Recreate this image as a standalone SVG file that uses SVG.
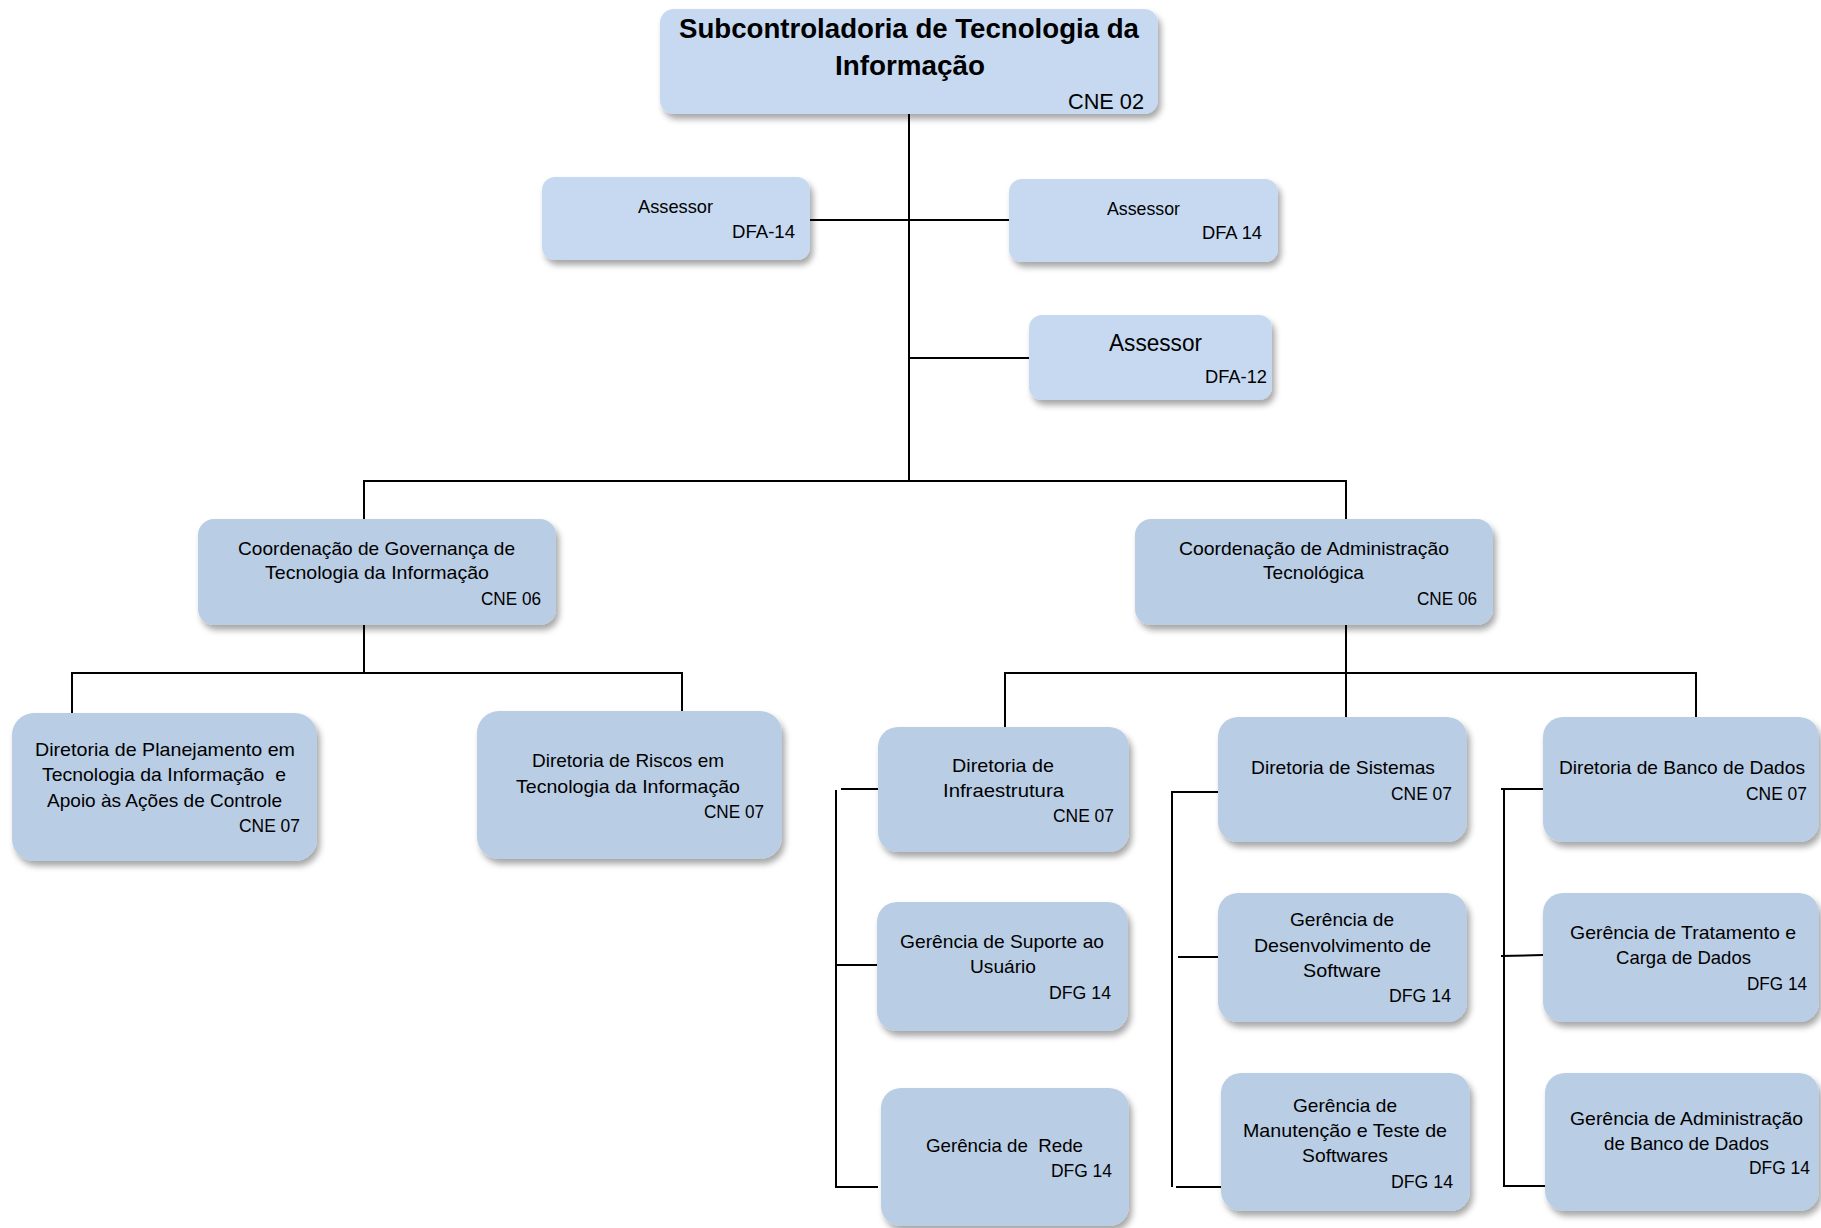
<svg xmlns="http://www.w3.org/2000/svg" width="1821" height="1228" viewBox="0 0 1821 1228">
<defs>
<filter id="sh" x="-10%" y="-10%" width="125%" height="135%">
<feDropShadow dx="3" dy="5" stdDeviation="3" flood-color="#000" flood-opacity="0.35"/>
</filter>
<style>
.la{fill:#C6D9F1;filter:url(#sh)}
.bx{fill:#B9CDE5;filter:url(#sh)}
text{font-family:"Liberation Sans",Arial,sans-serif;font-size:19px;fill:#000}
.t{font-weight:bold;font-size:27px}
.p{white-space:pre}
.c{fill:none;stroke:#000;stroke-width:2}
</style>
</defs>
<rect width="1821" height="1228" fill="#fff"/>
<g id="connectors">
<path class="c" d="M909 114 V481"/>
<path class="c" d="M810 220 H1009"/>
<path class="c" d="M909 358 H1029"/>
<path class="c" d="M364 519 V481 H1346 V519"/>
<path class="c" d="M364 625 V673"/>
<path class="c" d="M72 713 V673 H682 V711"/>
<path class="c" d="M1346 625 V717"/>
<path class="c" d="M1005 727 V673 H1696 V717"/>
<path class="c" d="M836 790 V1187 H878"/>
<path class="c" d="M841 789 H878"/>
<path class="c" d="M837 965 H877"/>
<path class="c" d="M1218 792 H1172 V1187"/>
<path class="c" d="M1176 1187 H1221"/>
<path class="c" d="M1178 957 H1218"/>
<path class="c" d="M1543 789 H1501"/>
<path class="c" d="M1504 789 V1186 H1545"/>
<path class="c" d="M1501 956 L1543 955"/>
</g>
<g id="n0"><rect class="la" x="660" y="9" width="498" height="105" rx="14"/>
<text class="t" x="679" y="38" textLength="460" lengthAdjust="spacingAndGlyphs">Subcontroladoria de Tecnologia da</text>
<text class="t" x="835" y="75" textLength="150" lengthAdjust="spacingAndGlyphs">Informação</text>
<text x="1068" y="109" style="font-size:22px" textLength="76" lengthAdjust="spacingAndGlyphs">CNE 02</text></g>
<g id="n1"><rect class="la" x="542" y="177" width="268" height="83" rx="13"/>
<text x="638" y="213" textLength="75" lengthAdjust="spacingAndGlyphs">Assessor</text>
<text x="732" y="238" textLength="63" lengthAdjust="spacingAndGlyphs">DFA-14</text></g>
<g id="n2"><rect class="la" x="1009" y="179" width="269" height="83" rx="13"/>
<text x="1107" y="215" textLength="73" lengthAdjust="spacingAndGlyphs">Assessor</text>
<text x="1202" y="239" textLength="60" lengthAdjust="spacingAndGlyphs">DFA 14</text></g>
<g id="n3"><rect class="la" x="1029" y="315" width="243" height="85" rx="13"/>
<text x="1109" y="351" style="font-size:24px" textLength="93" lengthAdjust="spacingAndGlyphs">Assessor</text>
<text x="1205" y="383" textLength="62" lengthAdjust="spacingAndGlyphs">DFA-12</text></g>
<g id="n4"><rect class="bx" x="198" y="519" width="358" height="106" rx="16"/>
<text x="238" y="555" textLength="277" lengthAdjust="spacingAndGlyphs">Coordenação de Governança de</text>
<text x="265" y="579" textLength="224" lengthAdjust="spacingAndGlyphs">Tecnologia da Informação</text>
<text x="481" y="605" textLength="60" lengthAdjust="spacingAndGlyphs">CNE 06</text></g>
<g id="n5"><rect class="bx" x="1135" y="519" width="358" height="106" rx="16"/>
<text x="1179" y="555" textLength="270" lengthAdjust="spacingAndGlyphs">Coordenação de Administração</text>
<text x="1263" y="579" textLength="101" lengthAdjust="spacingAndGlyphs">Tecnológica</text>
<text x="1417" y="605" textLength="60" lengthAdjust="spacingAndGlyphs">CNE 06</text></g>
<g id="n6"><rect class="bx" x="12" y="713" width="305" height="148" rx="22"/>
<text x="35" y="756" textLength="260" lengthAdjust="spacingAndGlyphs">Diretoria de Planejamento em</text>
<text class="p" xml:space="preserve" x="42" y="781" textLength="244" lengthAdjust="spacingAndGlyphs">Tecnologia da Informação  e</text>
<text x="47" y="807" textLength="235" lengthAdjust="spacingAndGlyphs">Apoio às Ações de Controle</text>
<text x="239" y="832" textLength="61" lengthAdjust="spacingAndGlyphs">CNE 07</text></g>
<g id="n7"><rect class="bx" x="477" y="711" width="305" height="148" rx="22"/>
<text x="532" y="767" textLength="192" lengthAdjust="spacingAndGlyphs">Diretoria de Riscos em</text>
<text x="516" y="793" textLength="224" lengthAdjust="spacingAndGlyphs">Tecnologia da Informação</text>
<text x="704" y="818" textLength="60" lengthAdjust="spacingAndGlyphs">CNE 07</text></g>
<g id="n8"><rect class="bx" x="878" y="727" width="251" height="125" rx="20"/>
<text x="952" y="772" textLength="102" lengthAdjust="spacingAndGlyphs">Diretoria de</text>
<text x="943" y="797" textLength="121" lengthAdjust="spacingAndGlyphs">Infraestrutura</text>
<text x="1053" y="822" textLength="61" lengthAdjust="spacingAndGlyphs">CNE 07</text></g>
<g id="n9"><rect class="bx" x="1218" y="717" width="249" height="125" rx="20"/>
<text x="1251" y="774" textLength="184" lengthAdjust="spacingAndGlyphs">Diretoria de Sistemas</text>
<text x="1391" y="800" textLength="61" lengthAdjust="spacingAndGlyphs">CNE 07</text></g>
<g id="n10"><rect class="bx" x="1543" y="717" width="276" height="125" rx="20"/>
<text x="1559" y="774" textLength="246" lengthAdjust="spacingAndGlyphs">Diretoria de Banco de Dados</text>
<text x="1746" y="800" textLength="61" lengthAdjust="spacingAndGlyphs">CNE 07</text></g>
<g id="n11"><rect class="bx" x="877" y="902" width="251" height="129" rx="20"/>
<text x="900" y="948" textLength="204" lengthAdjust="spacingAndGlyphs">Gerência de Suporte ao</text>
<text x="970" y="973" textLength="66" lengthAdjust="spacingAndGlyphs">Usuário</text>
<text x="1049" y="999" textLength="62" lengthAdjust="spacingAndGlyphs">DFG 14</text></g>
<g id="n12"><rect class="bx" x="1218" y="893" width="249" height="129" rx="20"/>
<text x="1290" y="926" textLength="104" lengthAdjust="spacingAndGlyphs">Gerência de</text>
<text x="1254" y="952" textLength="177" lengthAdjust="spacingAndGlyphs">Desenvolvimento de</text>
<text x="1303" y="977" textLength="78" lengthAdjust="spacingAndGlyphs">Software</text>
<text x="1389" y="1002" textLength="62" lengthAdjust="spacingAndGlyphs">DFG 14</text></g>
<g id="n13"><rect class="bx" x="1543" y="893" width="276" height="129" rx="20"/>
<text x="1570" y="939" textLength="226" lengthAdjust="spacingAndGlyphs">Gerência de Tratamento e</text>
<text x="1616" y="964" textLength="135" lengthAdjust="spacingAndGlyphs">Carga de Dados</text>
<text x="1747" y="990" textLength="60" lengthAdjust="spacingAndGlyphs">DFG 14</text></g>
<g id="n14"><rect class="bx" x="881" y="1088" width="248" height="138" rx="20"/>
<text class="p" xml:space="preserve" x="926" y="1152" textLength="157" lengthAdjust="spacingAndGlyphs">Gerência de  Rede</text>
<text x="1051" y="1177" textLength="61" lengthAdjust="spacingAndGlyphs">DFG 14</text></g>
<g id="n15"><rect class="bx" x="1221" y="1073" width="249" height="138" rx="20"/>
<text x="1293" y="1112" textLength="104" lengthAdjust="spacingAndGlyphs">Gerência de</text>
<text x="1243" y="1137" textLength="204" lengthAdjust="spacingAndGlyphs">Manutenção e Teste de</text>
<text x="1302" y="1162" textLength="86" lengthAdjust="spacingAndGlyphs">Softwares</text>
<text x="1391" y="1188" textLength="62" lengthAdjust="spacingAndGlyphs">DFG 14</text></g>
<g id="n16"><rect class="bx" x="1545" y="1073" width="274" height="138" rx="20"/>
<text x="1570" y="1125" textLength="233" lengthAdjust="spacingAndGlyphs">Gerência de Administração</text>
<text x="1604" y="1150" textLength="165" lengthAdjust="spacingAndGlyphs">de Banco de Dados</text>
<text x="1749" y="1174" textLength="61" lengthAdjust="spacingAndGlyphs">DFG 14</text></g>
</svg>
